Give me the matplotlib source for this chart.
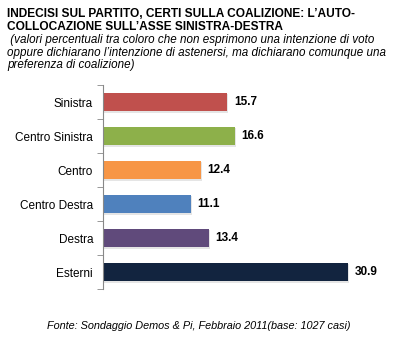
import matplotlib.pyplot as plt
import numpy as np

categories = ["Sinistra", "Centro Sinistra", "Centro", "Centro Destra", "Destra", "Esterni"]
values = [15.7, 16.6, 12.4, 11.1, 13.4, 30.9]
colors = ["#C0504D", "#8DB04A", "#F79646", "#4F81BD", "#604A7B", "#12243F"]

title = "INDECISI SUL PARTITO, CERTI SULLA COALIZIONE: L\u2019AUTO-\nCOLLOCAZIONE SULL\u2019ASSE SINISTRA-DESTRA"
subtitle = (" (valori percentuali tra coloro che non esprimono una intenzione di voto\n"
            "oppure dichiarano l\u2019intenzione di astenersi, ma dichiarano comunque una\n"
            "preferenza di coalizione)")
source = "Fonte: Sondaggio Demos & Pi, Febbraio 2011(base: 1027 casi)"


def main():
    plt.rcParams['font.family'] = ['Liberation Sans', 'DejaVu Sans']
    fig = plt.figure(figsize=(3.97, 3.43), dpi=100)
    ax = fig.add_axes([0.259, 0.157, 0.70, 0.595])

    y = np.arange(len(categories))
    # soft shadow under the bars
    ax.barh(y + 0.05, values, left=0.12, height=0.55, color='#CCCCCC', alpha=0.5, zorder=1)
    ax.barh(y, values, height=0.55, color=colors, zorder=2)
    for yi, v in zip(y, values):
        ax.text(v + 0.8, yi, f"{v:.1f}", va='center', ha='left',
                fontsize=8.5, fontweight='bold', color='black')

    ax.set_ylim(len(categories) - 0.5, -0.5)
    ax.set_xlim(0, 35)
    ax.set_yticks(y)
    ax.set_yticklabels(categories, fontsize=8.5, color='black')
    ax.tick_params(axis='y', length=0, pad=7)
    ax.set_yticks(np.arange(-0.5, len(categories)), minor=True)
    ax.tick_params(axis='y', which='minor', length=4, color='#888888')
    ax.set_xticks([])

    for s in ['top', 'right', 'bottom']:
        ax.spines[s].set_visible(False)
    ax.spines['left'].set_color('#888888')

    fig.text(0.018, 0.978, title, ha='left', va='top', fontsize=8.6,
             fontweight='bold', linespacing=1.15)
    fig.text(0.018, 0.902, subtitle, ha='left', va='top', fontsize=8.4,
             style='italic', linespacing=1.1)
    fig.text(0.50, 0.05, source, ha='center', va='center', fontsize=7.8,
             style='italic')

    fig.savefig("out.png", dpi=100)


if __name__ == "__main__":
    main()
